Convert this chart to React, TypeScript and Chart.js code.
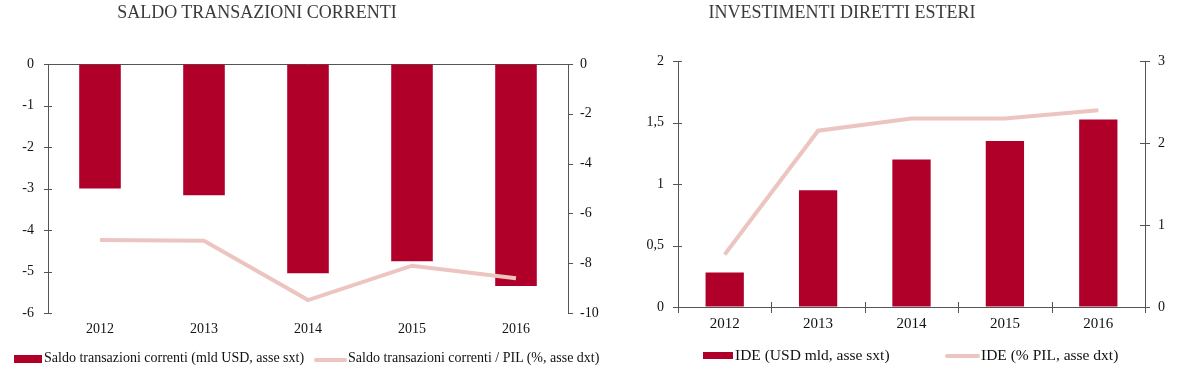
import React, { useEffect, useRef } from "react";
import { Chart, registerables } from "chart.js";

Chart.register(...registerables);

const years = ["2012", "2013", "2014", "2015", "2016"];
const saldoUsd = [-3.0, -3.16, -5.04, -4.75, -5.35];
const saldoPil = [-7.07, -7.1, -9.48, -8.1, -8.6];
const ideUsd = [0.28, 0.95, 1.2, 1.35, 1.525];
const idePil = [0.64, 2.15, 2.3, 2.3, 2.4];

const leftTitle = "SALDO TRANSAZIONI CORRENTI";
const rightTitle = "INVESTIMENTI DIRETTI ESTERI";
const leftLegend = ["Saldo transazioni correnti (mld USD, asse sxt)", "Saldo transazioni correnti / PIL (%, asse dxt)"];
const rightLegend = ["IDE (USD mld, asse sxt)", "IDE (% PIL, asse dxt)"];

const BAR = "#b00029";
const LINE = "#ecc5c0";
const AXIS = "#555555";
const TEXT = "#111111";
const FONT = '"Liberation Serif", "Times New Roman", serif';

const tickFont = { family: FONT, size: 14 };
const tickFontR = { family: FONT, size: 15 };

const crossTicks = {
  id: "crossTicks",
  afterDraw(chart: any, _args: any, opts: any) {
    const axes = (opts && opts.axes) || {};
    const ctx = chart.ctx;
    ctx.save();
    ctx.strokeStyle = AXIS;
    ctx.lineWidth = 1;
    for (const id of Object.keys(axes)) {
      const [inner, outer] = axes[id];
      const s = chart.scales[id];
      if (!s) continue;
      ctx.beginPath();
      if (s.axis === "y") {
        const left = s.position === "left";
        const x0 = Math.round(left ? s.right : s.left);
        for (const t of s.ticks) {
          const y = Math.round(s.getPixelForValue(t.value)) + 0.5;
          if (left) {
            ctx.moveTo(x0 - outer, y);
            ctx.lineTo(x0 + inner, y);
          } else {
            ctx.moveTo(x0 - inner, y);
            ctx.lineTo(x0 + outer, y);
          }
        }
      } else {
        const n = s.ticks.length;
        const step = s.getPixelForValue(1) - s.getPixelForValue(0);
        for (let i = 0; i <= n; i++) {
          const x = Math.round(s.getPixelForValue(i) - step / 2) + 0.5;
          const y0 = Math.round(s.top);
          ctx.moveTo(x, y0 - inner);
          ctx.lineTo(x, y0 + outer);
        }
      }
      ctx.stroke();
    }
    ctx.restore();
  },
};

function leftConfig(): any {
  return {
    type: "bar",
    plugins: [crossTicks],
    data: {
      labels: years,
      datasets: [
        {
          type: "line",
          label: leftLegend[1],
          data: saldoPil,
          yAxisID: "y1",
          borderColor: LINE,
          backgroundColor: LINE,
          borderWidth: 4,
          pointRadius: 0,
          tension: 0,
          order: 0,
        },
        {
          type: "bar",
          label: leftLegend[0],
          data: saldoUsd,
          yAxisID: "y",
          backgroundColor: BAR,
          barPercentage: 0.4,
          categoryPercentage: 1,
          order: 1,
        },
      ],
    },
    options: {
      responsive: false,
      animation: false,
      devicePixelRatio: 1,
      layout: { padding: { top: 64, left: 0, right: 0, bottom: 0 } },
      plugins: {
        legend: { display: false },
        title: { display: false },
        tooltip: { enabled: false },
        crossTicks: { axes: { y: [4, 4], y1: [0, 5] } },
      },
      scales: {
        x: {
          type: "category",
          offset: true,
          grid: { display: false, drawTicks: false },
          border: { display: false },
          ticks: { font: tickFont, color: TEXT, padding: 8, maxRotation: 0 },
          afterFit: (s: any) => { s.height = 58; },
        },
        y: {
          position: "left",
          min: -6,
          max: 0,
          ticks: { stepSize: 1, font: tickFont, color: TEXT, padding: 14 },
          grid: {
            drawOnChartArea: true,
            drawTicks: false,
            color: (ctx: any) => (ctx.tick && ctx.tick.value === 0 ? AXIS : "rgba(0,0,0,0)"),
            lineWidth: 1,
          },
          border: { display: true, color: AXIS },
          afterFit: (s: any) => { s.width = 48; },
        },
        y1: {
          position: "right",
          min: -10,
          max: 0,
          ticks: { stepSize: 2, font: tickFont, color: TEXT, padding: 12 },
          grid: { drawOnChartArea: false, drawTicks: false },
          border: { display: true, color: AXIS },
          afterFit: (s: any) => { s.width = 52; },
        },
      },
    },
  };
}

function rightConfig(): any {
  return {
    type: "bar",
    plugins: [crossTicks],
    data: {
      labels: years,
      datasets: [
        {
          type: "line",
          label: rightLegend[1],
          data: idePil,
          yAxisID: "y1",
          borderColor: LINE,
          backgroundColor: LINE,
          borderWidth: 4,
          pointRadius: 0,
          tension: 0,
          order: 0,
        },
        {
          type: "bar",
          label: rightLegend[0],
          data: ideUsd,
          yAxisID: "y",
          backgroundColor: BAR,
          barPercentage: 0.41,
          categoryPercentage: 1,
          order: 1,
        },
      ],
    },
    options: {
      responsive: false,
      animation: false,
      devicePixelRatio: 1,
      layout: { padding: { top: 61, left: 0, right: 0, bottom: 0 } },
      plugins: {
        legend: { display: false },
        title: { display: false },
        tooltip: { enabled: false },
        crossTicks: { axes: { y: [4, 5], y1: [5, 5], x: [5, 6] } },
      },
      scales: {
        x: {
          type: "category",
          offset: true,
          grid: { display: false, drawTicks: false },
          border: { display: true, color: AXIS },
          ticks: { font: tickFontR, color: TEXT, padding: 8, maxRotation: 0 },
          afterFit: (s: any) => { s.height = 64; },
        },
        y: {
          position: "left",
          min: 0,
          max: 2,
          ticks: {
            stepSize: 0.5,
            font: tickFont,
            color: TEXT,
            padding: 14,
            callback: (v: any) => String(v).replace(".", ","),
          },
          grid: { drawOnChartArea: false, drawTicks: false },
          border: { display: true, color: AXIS },
          afterFit: (s: any) => { s.width = 58; },
        },
        y1: {
          position: "right",
          min: 0,
          max: 3,
          ticks: { stepSize: 1, font: tickFont, color: TEXT, padding: 13 },
          grid: { drawOnChartArea: false, drawTicks: false },
          border: { display: true, color: AXIS },
          afterFit: (s: any) => { s.width = 33; },
        },
      },
    },
  };
}

const abs = (left: number, top: number, extra: any = {}): any => ({
  position: "absolute",
  left,
  top,
  ...extra,
});

const textStyle: any = { fontFamily: FONT, fontSize: 14, color: TEXT, whiteSpace: "nowrap", lineHeight: "16px" };
const textStyleR: any = { fontFamily: FONT, fontSize: 15.5, color: TEXT, whiteSpace: "nowrap", lineHeight: "18px" };
const titleStyle: any = { fontFamily: FONT, fontSize: 18, color: "#3a3a3a", whiteSpace: "nowrap", lineHeight: "22px", textAlign: "center" };

export default function App() {
  const leftRef = useRef<HTMLCanvasElement | null>(null);
  const rightRef = useRef<HTMLCanvasElement | null>(null);

  useEffect(() => {
    const c1 = new Chart(leftRef.current as HTMLCanvasElement, leftConfig());
    const c2 = new Chart(rightRef.current as HTMLCanvasElement, rightConfig());
    return () => {
      c1.destroy();
      c2.destroy();
    };
  }, []);

  return (
    <div style={{ position: "absolute", left: 0, top: 0, width: 1178, height: 371, background: "#fff", overflow: "hidden" }}>
      <canvas ref={leftRef} width={620} height={371} style={abs(0, 0, { width: 620, height: 371 })} />
      <canvas ref={rightRef} width={558} height={371} style={abs(620, 0, { width: 558, height: 371 })} />

      <div style={abs(57, 1, { ...titleStyle, width: 400 })}>{leftTitle}</div>
      <div style={abs(642, 1, { ...titleStyle, width: 400 })}>{rightTitle}</div>

      <div style={abs(14, 355, { width: 28, height: 8, background: BAR })} />
      <div style={abs(44, 350, textStyle)}>{leftLegend[0]}</div>
      <div style={abs(314, 358, { width: 33, height: 4, background: LINE, borderRadius: 2 })} />
      <div style={abs(348, 350, textStyle)}>{leftLegend[1]}</div>

      <div style={abs(703, 352, { width: 30, height: 7, background: BAR })} />
      <div style={abs(735, 345.5, textStyleR)}>{rightLegend[0]}</div>
      <div style={abs(945, 354, { width: 35, height: 4, background: LINE, borderRadius: 2 })} />
      <div style={abs(981, 345.5, textStyleR)}>{rightLegend[1]}</div>
    </div>
  );
}
